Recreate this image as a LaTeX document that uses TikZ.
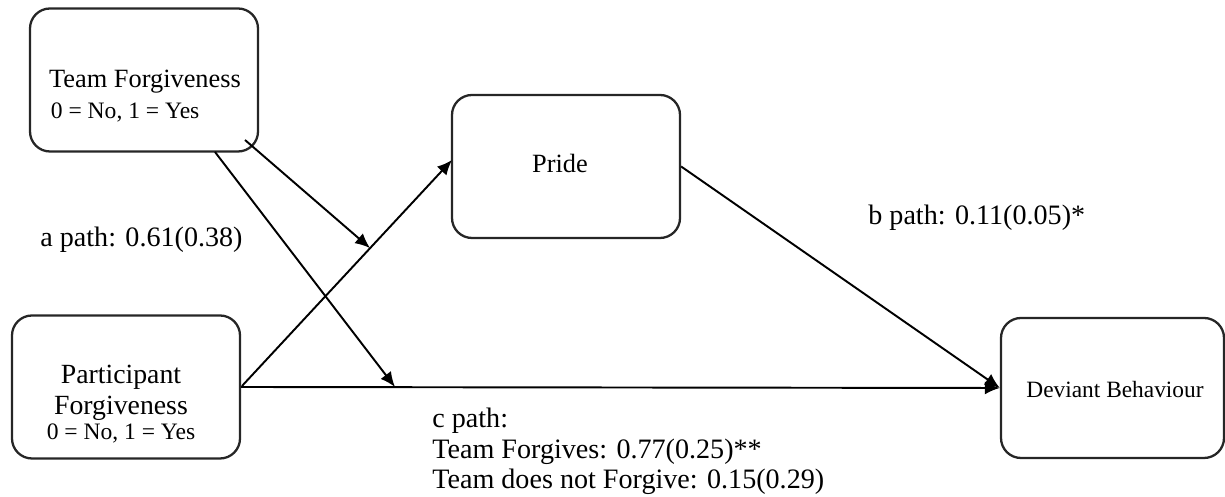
\documentclass[tikz,border=0pt]{standalone}
\usepackage{fontspec}
\setmainfont{Liberation Serif}
\usetikzlibrary{calc,positioning,arrows.meta}

\tikzset{
  varbox/.style={draw=black!85,line width=1.3pt,rounded corners=0.4cm,minimum width=4.56cm,minimum height=2.86cm},
  pathlink/.style={line width=1.1pt,-{Latex[length=3mm,width=2.6mm]}},
  lbl/.style={font=\fontsize{16}{17}\selectfont,inner sep=0pt},
}

\begin{document}
\begin{tikzpicture}
\useasboundingbox (0,0) rectangle (24.5,9.94);
% boxes
\node[varbox](tf)at(2.88,8.34){};
\node[varbox](pr)at(11.32,6.61){};
\node[varbox](pf)at(2.52,2.2){};
\node[varbox,minimum width=4.46cm,minimum height=2.8cm](dv)at(22.25,2.18){};
% texts in boxes
\node[align=left,inner sep=0pt,font=\fontsize{15}{17}\selectfont](tft)at(2.9,8.02)
  {Team Forgiveness\\[1pt]\hspace*{1pt}{\fontsize{13.4}{14}\selectfont 0 = No, 1 = Yes}};
\node[lbl,font=\fontsize{15}{17}\selectfont](prt)at(11.2,6.68){Pride};
\node[align=center,inner sep=0pt,font=\fontsize{15.8}{17.5}\selectfont](pft)at(2.42,1.85)
  {Participant\\Forgiveness\\[-3pt]{\fontsize{13.4}{14}\selectfont 0 = No, 1 = Yes}};
\node[lbl,font=\fontsize{13.3}{15}\selectfont](dvt)at(22.3,2.14){Deviant Behaviour};
% connectors
\coordinate(p0)at(4.84,2.22);
\coordinate(p1)at(9.04,6.74);
\coordinate(m1)at($(p0)!0.61!(p1)$);
\coordinate(m2)at(7.9,2.2);
\draw[pathlink](p0)--(p1);
\draw[pathlink](pf.east|-0,2.2)--(dv.west);
\draw[pathlink](pr.east)--(dv.west);
\draw[pathlink](4.9,7.14)--(m1);
\draw[pathlink](4.3,6.9)--(m2);
% path labels
\node[lbl,anchor=west](apath)at(0.8,5.14){a path: 0.61(0.38)};
\node[lbl,anchor=west](bpath)at(17.36,5.58){b path: 0.11(0.05)*};
\node[lbl,anchor=north west,align=left,font=\fontsize{16}{17.2}\selectfont](cpath)at(8.64,1.78)
  {c path:\\Team Forgives: 0.77(0.25)**\\Team does not Forgive: 0.15(0.29)};
\end{tikzpicture}
\end{document}
